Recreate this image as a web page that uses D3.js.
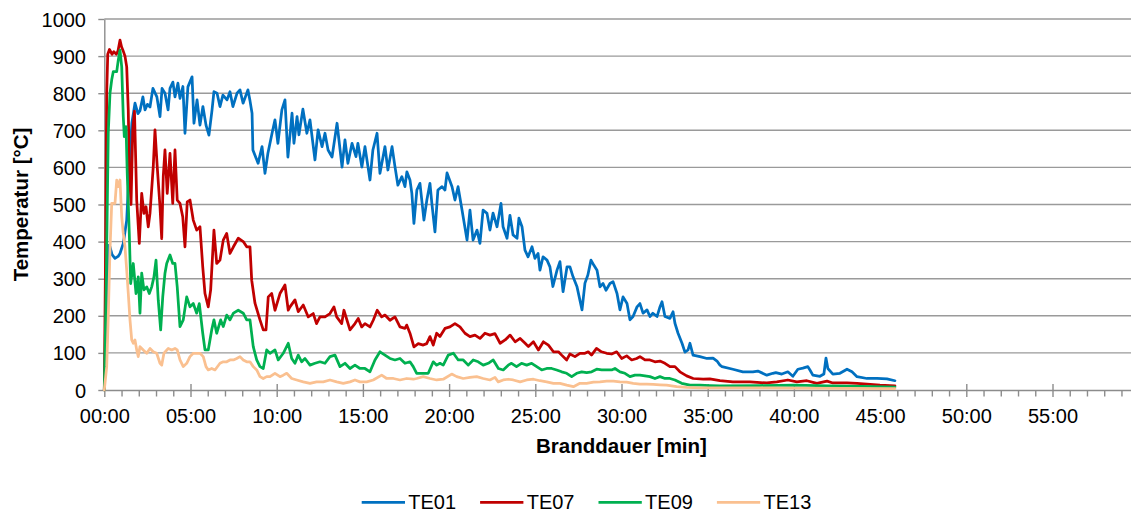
<!DOCTYPE html>
<html>
<head>
<meta charset="utf-8">
<script src="https://cdn.jsdelivr.net/npm/d3@7"></script>
<style>
  html, body { margin: 0; padding: 0; background: #fff; }
  svg { display: block; font-family: "Liberation Sans", Arial, sans-serif; }
</style>
</head>
<body>
<svg id="chart" width="1131" height="513"></svg>
<script>
// Thermocouple readings: [fire duration in minutes, temperature in °C]
const seriesNames = ["TE01", "TE07", "TE09", "TE13"];
const seriesColors = ["#0070C0", "#C00000", "#00B050", "#FAC090"];

const te01 = [[0,0],[0.12,200],[0.25,390],[0.33,386],[0.45,365],[0.62,355],[0.8,360],[0.91,368],[1.10,395],[1.30,458],[1.45,600],[1.6,720],[1.78,773],[1.95,745],[2.07,753],[2.24,790],[2.36,755],[2.5,770],[2.65,763],[2.82,813],[3.05,790],[3.23,737],[3.35,813],[3.52,800],[3.70,755],[3.81,813],[3.98,830],[4.10,790],[4.27,827],[4.39,786],[4.56,818],[4.68,692],[4.85,817],[5.09,844],[5.20,719],[5.38,782],[5.55,714],[5.72,764],[5.90,714],[6.07,687],[6.25,755],[6.36,804],[6.54,800],[6.71,764],[6.88,795],[7.12,782],[7.29,804],[7.46,764],[7.70,800],[7.87,809],[8.05,773],[8.33,809],[8.45,780],[8.57,746],[8.62,647],[8.92,611],[9.15,656],[9.32,584],[9.49,638],[9.73,692],[9.90,728],[10.07,665],[10.30,755],[10.48,782],[10.65,628],[10.89,746],[11.00,665],[11.18,737],[11.29,688],[11.52,757],[11.75,692],[11.93,728],[12.22,620],[12.40,701],[12.63,656],[12.80,692],[12.98,647],[13.21,628],[13.50,719],[13.79,601],[13.96,674],[14.13,611],[14.37,665],[14.60,629],[14.71,665],[14.94,601],[15.12,656],[15.41,566],[15.58,647],[15.82,692],[15.99,584],[16.28,656],[16.45,593],[16.69,656],[16.86,602],[17.03,552],[17.26,575],[17.44,548],[17.55,588],[17.73,566],[17.84,530],[17.96,449],[18.13,539],[18.31,557],[18.54,458],[18.71,512],[18.89,557],[19.00,503],[19.18,426],[19.35,539],[19.59,548],[19.76,539],[19.88,585],[20.17,548],[20.34,512],[20.52,548],[20.75,485],[21.04,404],[21.21,485],[21.39,404],[21.62,431],[21.79,395],[21.97,485],[22.20,476],[22.37,431],[22.55,477],[22.78,440],[23.01,503],[23.13,440],[23.36,409],[23.53,471],[23.71,418],[23.94,409],[24.05,463],[24.23,440],[24.40,377],[24.58,359],[24.81,386],[24.98,355],[25.16,368],[25.27,323],[25.45,359],[25.68,350],[25.85,332],[26.02,279],[26.26,323],[26.43,346],[26.61,265],[26.84,332],[27.01,332],[27.19,305],[27.42,278],[27.71,216],[27.88,288],[28.05,310],[28.23,350],[28.40,336],[28.58,323],[28.75,278],[28.93,287],[29.10,269],[29.33,287],[29.51,292],[29.74,260],[29.91,216],[30.09,251],[30.32,233],[30.49,189],[30.67,198],[30.90,224],[31.07,233],[31.25,207],[31.48,216],[31.65,198],[31.82,207],[32.06,198],[32.23,224],[32.35,238],[32.52,198],[32.81,193],[32.99,211],[33.10,180],[33.28,153],[33.51,126],[33.68,102],[33.86,108],[33.97,126],[34.15,94],[34.55,90],[34.96,85],[35.31,86],[35.54,78],[35.71,67],[35.83,63],[36.46,56],[37.04,49],[37.62,49],[37.91,51],[38.43,40],[38.78,45],[38.95,47],[39.30,43],[39.65,49],[39.94,37],[40.23,56],[40.52,59],[40.81,63],[40.93,54],[41.10,40],[41.51,37],[41.74,43],[41.86,86],[41.97,58],[42.26,43],[42.67,45],[43.08,56],[43.37,49],[43.66,36],[44.24,31],[44.82,31],[45.40,30],[45.86,25]];

const te07 = [[0,0],[0.06,300],[0.14,800],[0.2,905],[0.3,918],[0.45,905],[0.55,912],[0.7,905],[0.8,915],[0.91,943],[1.0,925],[1.08,916],[1.2,900],[1.3,871],[1.39,755],[1.45,600],[1.55,500],[1.65,700],[1.75,752],[1.88,512],[2.03,395],[2.17,530],[2.30,476],[2.42,494],[2.55,440],[2.65,476],[2.84,602],[2.94,701],[3.07,602],[3.23,494],[3.33,408],[3.42,575],[3.52,647],[3.65,530],[3.81,638],[3.97,503],[4.10,647],[4.23,512],[4.39,503],[4.55,467],[4.68,386],[4.81,507],[4.97,512],[5.16,458],[5.36,431],[5.55,440],[5.71,332],[5.84,260],[6.03,224],[6.17,270],[6.36,431],[6.52,341],[6.71,350],[6.90,404],[7.10,422],[7.29,368],[7.49,386],[7.77,409],[8.06,400],[8.26,386],[8.45,386],[8.55,296],[8.74,234],[9.03,189],[9.22,162],[9.38,162],[9.51,251],[9.71,260],[9.90,215],[10.19,260],[10.48,283],[10.67,215],[10.77,224],[11.06,243],[11.25,211],[11.54,229],[11.83,197],[12.12,206],[12.31,179],[12.51,197],[12.80,197],[13.09,206],[13.32,224],[13.48,197],[13.77,179],[13.90,215],[14.25,162],[14.54,179],[14.73,193],[14.93,170],[15.12,179],[15.41,170],[15.60,188],[15.83,215],[16.09,197],[16.28,202],[16.57,188],[16.86,197],[17.15,170],[17.44,166],[17.54,175],[17.73,153],[17.96,116],[18.21,125],[18.50,121],[18.70,125],[18.89,144],[19.08,121],[19.28,153],[19.47,144],[19.76,166],[20.05,170],[20.34,179],[20.63,170],[20.92,153],[21.21,144],[21.50,148],[21.79,139],[22.08,153],[22.37,148],[22.66,152],[22.96,126],[23.25,135],[23.54,148],[23.83,130],[24.12,139],[24.41,126],[24.60,117],[24.89,130],[25.18,108],[25.47,130],[25.76,121],[26.05,103],[26.34,103],[26.53,94],[26.82,81],[27.01,97],[27.30,90],[27.59,99],[27.88,99],[28.07,103],[28.26,94],[28.55,112],[28.84,103],[29.14,99],[29.43,97],[29.72,103],[30.01,85],[30.30,92],[30.59,81],[30.88,85],[31.07,90],[31.36,81],[31.65,81],[31.94,76],[32.23,78],[32.52,72],[32.81,63],[33.10,63],[33.39,49],[33.78,38],[34.16,31],[34.74,29],[35.12,30],[35.71,25],[36.46,22],[37.45,22],[38.43,19],[39.01,22],[39.65,27],[40.17,22],[40.75,25],[41.33,18],[41.92,24],[42.26,19],[43.08,19],[43.66,18],[44.24,16],[44.99,13],[45.86,11]];

const te09 = [[0,0],[0.1,250],[0.23,692],[0.33,800],[0.43,836],[0.52,858],[0.72,858],[0.81,889],[0.91,916],[1.01,871],[1.10,737],[1.16,683],[1.26,710],[1.33,584],[1.45,422],[1.53,287],[1.68,341],[1.84,260],[1.97,305],[2.07,207],[2.17,315],[2.30,270],[2.46,278],[2.61,260],[2.75,278],[2.88,305],[3.00,350],[3.13,242],[3.27,162],[3.39,251],[3.52,315],[3.62,341],[3.81,364],[3.97,341],[4.10,341],[4.23,278],[4.39,171],[4.58,189],[4.78,251],[4.97,224],[5.16,233],[5.36,207],[5.51,233],[5.71,153],[5.84,108],[6.03,108],[6.23,162],[6.36,189],[6.52,153],[6.75,189],[6.90,171],[7.10,202],[7.29,189],[7.49,207],[7.77,215],[8.06,207],[8.26,189],[8.45,189],[8.64,117],[8.84,81],[9.03,63],[9.22,58],[9.42,108],[9.61,99],[9.90,108],[10.09,81],[10.38,99],[10.67,126],[10.87,85],[11.06,72],[11.25,94],[11.45,76],[11.64,85],[11.93,67],[12.22,72],[12.51,76],[12.80,72],[13.09,90],[13.38,94],[13.67,63],[13.96,72],[14.25,58],[14.54,67],[14.83,58],[15.12,58],[15.41,49],[15.70,81],[15.99,103],[16.28,94],[16.57,85],[16.86,81],[17.15,85],[17.44,72],[17.73,76],[17.92,63],[18.12,45],[18.50,45],[18.79,45],[19.08,76],[19.28,67],[19.47,72],[19.66,67],[19.95,94],[20.25,99],[20.53,81],[20.82,81],[21.11,67],[21.40,81],[21.69,76],[21.98,67],[22.27,72],[22.56,81],[22.86,58],[23.14,54],[23.43,67],[23.62,72],[23.91,63],[24.20,72],[24.50,67],[24.79,72],[25.08,63],[25.37,54],[25.66,58],[25.95,58],[26.24,54],[26.53,49],[26.82,45],[27.11,36],[27.40,45],[27.69,49],[27.98,47],[28.27,49],[28.56,56],[28.85,54],[29.14,54],[29.43,54],[29.62,58],[29.91,49],[30.20,45],[30.49,36],[30.78,40],[31.07,40],[31.36,38],[31.65,36],[31.94,31],[32.23,36],[32.52,31],[32.81,31],[33.10,27],[33.49,18],[33.97,13],[34.55,13],[35.13,12],[35.71,11],[38,12],[40,13],[42,11],[44,10],[45.86,8]];

const te13 = [[0,0],[0.14,63],[0.23,198],[0.33,377],[0.43,503],[0.62,503],[0.72,566],[0.81,548],[0.91,566],[1.01,467],[1.10,422],[1.20,386],[1.30,323],[1.39,261],[1.49,189],[1.59,135],[1.68,126],[1.78,135],[1.88,108],[1.97,90],[2.07,117],[2.26,108],[2.46,99],[2.65,112],[2.84,103],[3.04,99],[3.23,72],[3.33,67],[3.46,99],[3.71,112],[3.91,108],[4.10,112],[4.23,108],[4.39,81],[4.58,63],[4.78,72],[4.97,90],[5.16,99],[5.36,99],[5.55,99],[5.74,90],[5.90,63],[6.03,54],[6.23,58],[6.42,54],[6.71,72],[6.90,76],[7.10,76],[7.29,81],[7.49,81],[7.68,85],[7.87,90],[8.06,81],[8.26,76],[8.45,76],[8.64,63],[8.84,54],[9.03,36],[9.22,31],[9.42,36],[9.61,36],[9.90,45],[10.19,36],[10.38,40],[10.58,45],[10.87,31],[11.16,27],[11.54,22],[11.93,18],[12.31,22],[12.70,22],[13.09,27],[13.48,22],[13.86,18],[14.25,22],[14.54,27],[14.83,22],[15.22,22],[15.60,27],[16.09,40],[16.38,31],[16.77,31],[17.15,27],[17.54,31],[17.93,29],[18.12,31],[18.50,36],[18.89,31],[19.28,27],[19.66,29],[20.15,43],[20.44,36],[20.82,31],[21.21,34],[21.60,36],[21.98,31],[22.37,27],[22.66,34],[22.85,22],[23.14,27],[23.43,29],[23.72,27],[24.12,22],[24.50,27],[24.89,29],[25.27,25],[25.66,22],[26.05,18],[26.43,18],[26.82,13],[27.21,9],[27.59,18],[27.98,18],[28.37,21],[28.75,22],[29.14,24],[29.53,24],[29.91,22],[30.30,21],[30.68,18],[31.07,16],[31.46,16],[31.84,15],[32.23,14],[32.62,13],[33.20,9],[33.78,7],[34.55,6],[35.71,6],[40,5],[45.86,4]];

const seriesData = [te01, te07, te09, te13];

// Axis ticks
const yTicks = [0, 100, 200, 300, 400, 500, 600, 700, 800, 900, 1000];
const xMajorTicks = [0, 5, 10, 15, 20, 25, 30, 35, 40, 45, 50, 55];
const xMinorTicks = d3.range(1, 60).filter(m => m % 5 !== 0);

const xTitle = "Branddauer [min]";
const yTitle = "Temperatur [°C]";

const W = 1131, H = 513;
const svg = d3.select("#chart");

const x = d3.scaleLinear().domain([0, 60]).range([104.3, 1138.7]);
const y = d3.scaleLinear().domain([0, 1000]).range([390, 19]);

const axisGray = "#8C8C8C";
const gridGray = "#9A9A9A";

// horizontal gridlines
svg.append("g")
  .selectAll("line")
  .data(yTicks.filter(v => v > 0))
  .join("line")
  .attr("x1", x(0)).attr("x2", W)
  .attr("y1", d => y(d)).attr("y2", d => y(d))
  .attr("stroke", gridGray).attr("stroke-width", 1.4);

// y axis
const yAxis = svg.append("g")
  .attr("transform", `translate(${x(0)},0)`)
  .call(d3.axisLeft(y).tickValues(yTicks).tickSize(6).tickSizeOuter(0).tickPadding(12.3).tickFormat(d3.format("d")));
yAxis.select(".domain").attr("stroke", axisGray).attr("stroke-width", 1.4);
yAxis.selectAll(".tick line").attr("stroke", axisGray).attr("stroke-width", 1.4);
yAxis.selectAll(".tick text").attr("font-size", 20).attr("fill", "#000")
  .attr("font-family", "Liberation Sans, Arial, sans-serif").attr("dy", "0.35em");

// x axis: minor ticks
const xMinor = svg.append("g")
  .attr("transform", `translate(0,${y(0)})`)
  .call(d3.axisBottom(x).tickValues(xMinorTicks).tickSize(6.5).tickSizeOuter(0).tickFormat(""));
xMinor.select(".domain").remove();
xMinor.selectAll(".tick line").attr("stroke", axisGray).attr("stroke-width", 1.4);

// x axis: major ticks crossing the axis, with labels
const fmtMin = m => d3.format("02d")(m) + ":00";
const xAxis = svg.append("g")
  .attr("transform", `translate(0,${y(0)})`)
  .call(d3.axisBottom(x).tickValues(xMajorTicks).tickSize(7).tickSizeOuter(0).tickFormat(fmtMin));
xAxis.select(".domain").attr("stroke", axisGray).attr("stroke-width", 1.4);
xAxis.selectAll(".tick line").attr("y1", -6).attr("stroke", axisGray).attr("stroke-width", 1.4);
xAxis.selectAll(".tick text").attr("font-size", 20).attr("fill", "#000")
  .attr("font-family", "Liberation Sans, Arial, sans-serif")
  .attr("y", 33).attr("dy", 0);

// series lines
const line = d3.line().x(d => x(d[0])).y(d => y(d[1]));
svg.append("g")
  .selectAll("path")
  .data(seriesData)
  .join("path")
  .attr("d", line)
  .attr("fill", "none")
  .attr("stroke", (d, i) => seriesColors[i])
  .attr("stroke-width", 2.75)
  .attr("stroke-linejoin", "round")
  .attr("stroke-linecap", "round");

// axis titles
svg.append("text")
  .attr("x", (x(0) + x(60)) / 2).attr("y", 452.5)
  .attr("text-anchor", "middle")
  .attr("font-size", 20.5).attr("font-weight", "bold").attr("fill", "#000")
  .text(xTitle);

svg.append("text")
  .attr("transform", `translate(27.5,${(y(0) + y(1000)) / 2}) rotate(-90)`)
  .attr("text-anchor", "middle")
  .attr("font-size", 20.5).attr("font-weight", "bold").attr("fill", "#000")
  .text(yTitle);

// legend
const legend = svg.append("g").attr("transform", "translate(361.7,502.3)");
const items = legend.selectAll("g")
  .data(seriesNames)
  .join("g")
  .attr("transform", (d, i) => `translate(${i * 118.4},0)`);
items.append("line")
  .attr("x1", 0).attr("x2", 43.3).attr("y1", 0).attr("y2", 0)
  .attr("stroke", (d, i) => seriesColors[i]).attr("stroke-width", 2.75);
items.append("text")
  .attr("x", 46.6).attr("y", 7)
  .attr("font-size", 20).attr("fill", "#000")
  .text(d => d);
</script>
</body>
</html>
